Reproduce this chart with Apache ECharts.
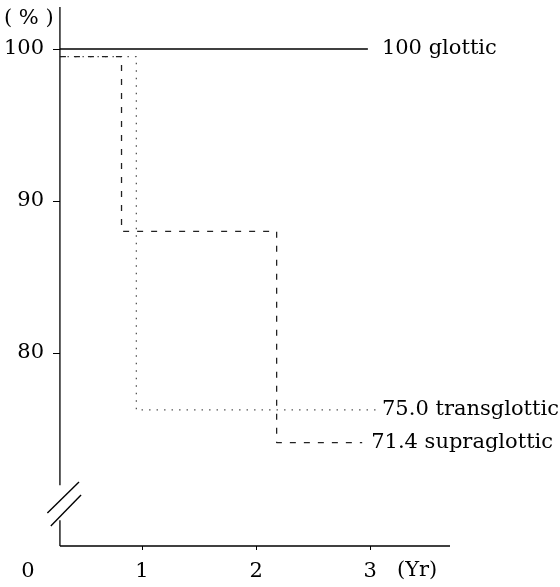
<!DOCTYPE html>
<html>
<head>
<meta charset="utf-8">
<script src="https://cdn.jsdelivr.net/npm/echarts@6/dist/echarts.min.js"></script>
<style>html,body{margin:0;padding:0;background:#fff}#c{width:560px;height:587px}</style>
</head>
<body>
<div id="c"></div>
<script>
// ---- data ----
const glotticX = [0.28, 2.98];
const glotticY = [100, 100];
const transX = [0.28, 0.95, 3.06];
const transY = [99.5, 76.25, 76.25];
const supraX = [0.28, 0.82, 2.18, 2.93];
const supraY = [99.5, 88.0, 74.1, 74.1];
const endLabels = ['100 glottic', '75.0 transglottic', '71.4 supraglottic'];
const xTickLabels = [0, 1, 2, 3];
const xTickMarks = [1, 2, 3];
const yTickLabels = [80, 90, 100];
const axisOriginX = 0.28;

const FONT = 'DejaVu Serif';
const FS = 21;
const pairs = (xs, ys) => xs.map((x, i) => [x, ys[i]]);

const chart = echarts.init(document.getElementById('c'), null, {renderer: 'canvas'});
const X_MIN = 0, X_MAX = 3.7, Y_MIN = 67.3, Y_MAX = 102.76;

const endLabel = (txt, dist) => ({
  show: true, formatter: txt, distance: dist, color: '#000',
  fontFamily: FONT, fontSize: FS
});

chart.setOption({
  animation: false,
  backgroundColor: '#fff',
  grid: {left: 28, right: 110, top: 7, bottom: 41, containLabel: false},
  xAxis: {
    type: 'value', min: X_MIN, max: X_MAX,
    axisLine: {show: false},
    splitLine: {show: false},
    axisTick: {show: true, customValues: xTickMarks, length: 4, inside: false, lineStyle: {color: '#000', width: 1}},
    axisLabel: {customValues: xTickLabels, margin: 15, color: '#000', fontFamily: FONT, fontSize: FS}
  },
  yAxis: {
    type: 'value', min: Y_MIN, max: Y_MAX, offset: -32,
    axisLine: {show: false},
    splitLine: {show: false},
    axisTick: {show: true, customValues: yTickLabels, length: 7, lineStyle: {color: '#000', width: 1}},
    axisLabel: {customValues: yTickLabels, margin: 16, color: '#000', fontFamily: FONT, fontSize: FS}
  },
  series: [
    {
      name: 'glottic', type: 'line', data: pairs(glotticX, glotticY), showSymbol: false, symbol: 'none',
      lineStyle: {color: '#000', width: 1.5, type: 'solid'},
      endLabel: endLabel(endLabels[0], 14)
    },
    {
      name: 'transglottic', type: 'line', step: 'end', data: pairs(transX, transY), showSymbol: false, symbol: 'none',
      lineStyle: {color: '#555', width: 1.3, type: [1.5, 6]},
      endLabel: endLabel(endLabels[1], 5)
    },
    {
      name: 'supraglottic', type: 'line', step: 'end', data: pairs(supraX, supraY), showSymbol: false, symbol: 'none',
      lineStyle: {color: '#222', width: 1.3, type: [6, 8]},
      endLabel: endLabel(endLabels[2], 9)
    }
  ]
});

// axis lines with a break on the y axis (drawn through the grid's scales)
const P = (x, y) => chart.convertToPixel({gridIndex: 0}, [x, y]);
const line = (a, b, w) => ({type: 'line', shape: {x1: a[0], y1: a[1], x2: b[0], y2: b[1]}, style: {stroke: '#000', lineWidth: w || 1.3}, silent: true});
const topY = P(axisOriginX, Y_MAX), brkHi = P(axisOriginX, 71.3), brkLo = P(axisOriginX, 69.0), org = P(axisOriginX, Y_MIN), xEnd = P(X_MAX, Y_MIN);
chart.setOption({
  graphic: [
    line(topY, brkHi),
    line(brkLo, org),
    line(org, xEnd),
    line(P(0.17, 69.47), P(0.447, 71.51), 1.4),
    line(P(0.20, 68.62), P(0.465, 70.66), 1.4),
    {type: 'text', left: 4, top: 8, style: {text: '( % )', fill: '#000', font: FS + 'px "' + FONT + '"'}},
    {type: 'text', left: 397, top: 560, style: {text: '(Yr)', fill: '#000', font: FS + 'px "' + FONT + '"'}}
  ]
});
</script>
</body>
</html>
